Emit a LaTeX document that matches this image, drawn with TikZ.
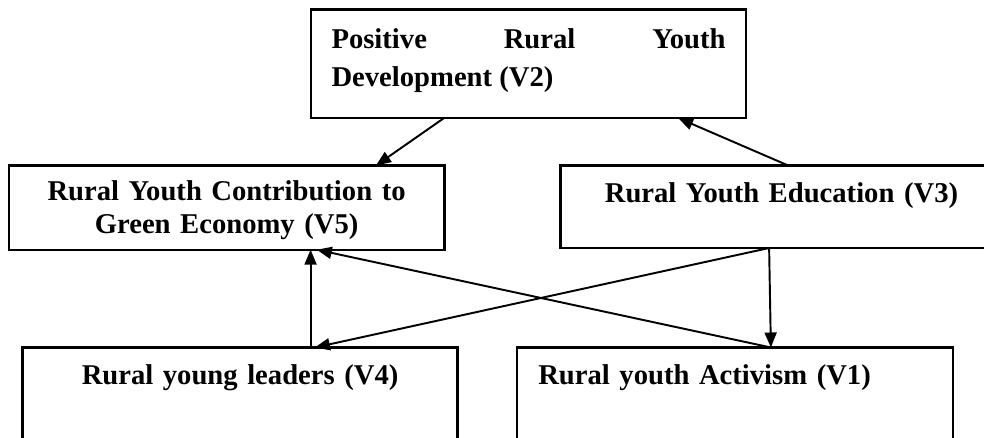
\documentclass[tikz,border=0pt]{standalone}
\usepackage{fontspec}
\setmainfont{Liberation Serif}
\usetikzlibrary{arrows.meta,calc}
\hyphenpenalty=10000
\tolerance=10000

\begin{document}
\begin{tikzpicture}[
	box/.style={rectangle, draw=black, line width=1.3pt, inner ysep=0pt, outer sep=0pt, anchor=north west, font=\fontsize{16.3}{18.5}\selectfont\bfseries},
	link/.style={line width=1.1pt, -{Triangle[length=0.3cm, width=0.24cm]}}
	]
	\pgfmathsetmacro{\rowone}{8.572}
	\pgfmathsetmacro{\rowtwo}{5.45}
	\pgfmathsetmacro{\rowthree}{1.81}

	\useasboundingbox (0,0) rectangle (19.68,8.76);
	\clip (0,0) rectangle (19.68,8.76);

	\node [box, inner xsep=0.41cm, text width=7.88cm, align=justify, text height=0.778cm, text depth=1.394cm, font=\fontsize{16.3}{22}\selectfont\bfseries] (v2) at (6.22,\rowone) {Positive Rural Youth Development (V2)};

	\node [box, inner xsep=0.406cm, text width=7.9cm, align=center, text height=0.708cm, text depth=0.976cm] (v5) at (0.176,\rowtwo) {Rural Youth Contribution to\\ Green Economy (V5)};
	\node [box, inner xsep=0.418cm, text width=8cm, align=center, text height=0.744cm, text depth=0.906cm] (v3) at (11.212,\rowtwo) {Rural Youth Education (V3)};

	\node [box, inner xsep=0.35cm, text width=8cm, align=center, text height=0.75cm, text depth=1.6cm] (v4) at (0.452,\rowthree) {Rural young leaders (V4)};
	\node [box, inner xsep=0.432cm, text width=7.856cm, align=left, text height=0.75cm, text depth=1.6cm] (v1) at (10.334,\rowthree) {Rural youth Activism (V1)};

	%Points where the arrows meet the boxes
	\coordinate (v2out) at ($(v2.south west)!0.306!(v2.south east)$);
	\coordinate (v2in) at ($(v2.south west)!0.844!(v2.south east)$);
	\coordinate (v5top) at ($(v5.north west)!0.843!(v5.north east)$);
	\coordinate (v5bot) at ($(v5.south west)!0.707!(v5.south east)$);
	\coordinate (v3top) at ($(v3.north west)!0.515!(v3.north east)$);
	\coordinate (v3bot) at ($(v3.south west)!0.472!(v3.south east)$);
	\coordinate (v4top) at ($(v4.north west)!0.662!(v4.north east)$);
	\coordinate (v4in) at ($(v4.north west)!0.672!(v4.north east)$);
	\coordinate (v1top) at ($(v1.north west)!0.583!(v1.north east)$);

	%Arrows
	\draw [link] (v2out) -- (v5top);
	\draw [link] (v3top) -- (v2in);
	\draw [link] (v4top) -- (v4top |- v5.south);
	\draw [link] (v3bot) -- (v4in);
	\draw [link] (v1top) -- (v5bot);
	\draw [link] (v3bot) -- (v1top);

\end{tikzpicture}
\end{document}
